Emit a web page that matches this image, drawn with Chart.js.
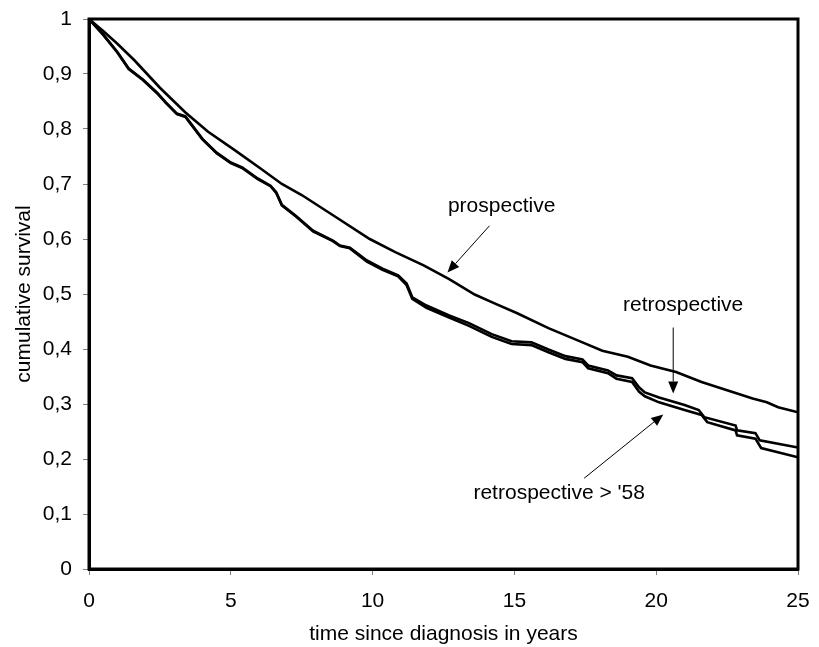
<!DOCTYPE html>
<html>
<head>
<meta charset="utf-8">
<script src="https://cdn.jsdelivr.net/npm/chart.js@4"></script>
<style>
  html, body { margin: 0; padding: 0; background: #fff; }
  #wrap { width: 819px; height: 647px; }
</style>
</head>
<body>
<div id="wrap"><canvas id="survChart" width="819" height="647"></canvas></div>
<script>
// years since diagnosis / cumulative survival
const prospYears = [0, 0.5, 1, 1.6, 2.5, 3.4, 4.2, 5.1, 6, 6.8, 7.5, 8.7, 9.9, 10.8, 11.8, 12.7, 13.6, 14.3, 15.1, 16.2, 17.4, 18.1, 19.0, 19.8, 20.7, 21.6, 22.5, 23.4, 23.9, 24.3, 25];
const prospSurv  = [1, 0.978, 0.955, 0.925, 0.875, 0.83, 0.795, 0.763, 0.73, 0.70, 0.68, 0.64, 0.60, 0.576, 0.552, 0.527, 0.499, 0.483, 0.465, 0.438, 0.412, 0.397, 0.386, 0.370, 0.358, 0.340, 0.325, 0.310, 0.303, 0.294, 0.285];

const retroYears = [0, 0.5, 1.0, 1.4, 1.9, 2.4, 2.7, 3.1, 3.4, 4.0, 4.5, 5.0, 5.4, 5.95, 6.4, 6.6, 6.8, 7.3, 7.9, 8.6, 8.85, 9.2, 9.8, 10.35, 10.9, 11.2, 11.4, 11.9, 12.7, 13.4, 14.2, 14.9, 15.6, 16.2, 16.8, 17.4, 17.6, 18.3, 18.6, 19.15, 19.4, 19.6, 20.1, 21.0, 21.5, 21.7, 22.8, 22.85, 23.5, 23.65, 25];
const retroSurv  = [1, 0.972, 0.94, 0.91, 0.89, 0.866, 0.849, 0.828, 0.823, 0.782, 0.757, 0.739, 0.730, 0.71, 0.697, 0.685, 0.662, 0.642, 0.615, 0.597, 0.588, 0.584, 0.561, 0.546, 0.534, 0.519, 0.494, 0.479, 0.461, 0.447, 0.427, 0.414, 0.412, 0.399, 0.387, 0.381, 0.370, 0.361, 0.352, 0.347, 0.330, 0.321, 0.312, 0.298, 0.289, 0.276, 0.261, 0.252, 0.247, 0.234, 0.221];

const retro58Years = [0, 0.5, 1.0, 1.4, 1.9, 2.4, 2.7, 3.1, 3.4, 4.0, 4.5, 5.0, 5.4, 5.95, 6.4, 6.6, 6.8, 7.3, 7.9, 8.6, 8.85, 9.2, 9.8, 10.35, 10.9, 11.2, 11.4, 11.9, 12.7, 13.4, 14.2, 14.9, 15.6, 16.2, 16.8, 17.4, 17.6, 18.3, 18.6, 19.15, 19.4, 19.6, 20.1, 21.0, 21.6, 21.8, 22.8, 22.85, 23.5, 23.7, 25];
const retro58Surv  = [1, 0.971, 0.939, 0.909, 0.889, 0.865, 0.848, 0.827, 0.822, 0.781, 0.756, 0.738, 0.729, 0.709, 0.696, 0.684, 0.661, 0.641, 0.614, 0.596, 0.587, 0.583, 0.559, 0.544, 0.532, 0.516, 0.491, 0.475, 0.457, 0.442, 0.422, 0.409, 0.407, 0.394, 0.382, 0.376, 0.365, 0.356, 0.346, 0.340, 0.322, 0.314, 0.303, 0.289, 0.280, 0.267, 0.252, 0.243, 0.237, 0.220, 0.203];

const xTicks = [0, 5, 10, 15, 20, 25];
const yTicks = [0, 0.1, 0.2, 0.3, 0.4, 0.5, 0.6, 0.7, 0.8, 0.9, 1];

// labels with arrows, in data units
const notes = [
    { text: 'prospective', tx: 14.55, ty: 0.659, from: [14.12, 0.624], to: [12.64, 0.539] },
    { text: 'retrospective', tx: 20.95, ty: 0.479, from: [20.6, 0.439], to: [20.6, 0.319] },
    { text: "retrospective > '58", tx: 16.58, ty: 0.138, from: [17.46, 0.165], to: [20.25, 0.281] }
];

const FONT = 'Arial, "Liberation Sans", sans-serif';
const FSIZE = 21;

function toPoints(xs, ys) {
    return xs.map((x, i) => ({ x: x, y: ys[i] }));
}

function curve(label, xs, ys) {
    return {
        label: label,
        data: toPoints(xs, ys),
        showLine: true,
        borderColor: '#000',
        borderWidth: 2.6,
        pointRadius: 0,
        tension: 0,
        fill: false
    };
}

const frameAndNotes = {
    id: 'frameAndNotes',
    afterDatasetsDraw(chart) {
        const { ctx, chartArea: a, scales } = chart;
        ctx.save();
        // box around the plot
        ctx.strokeStyle = '#000';
        ctx.lineWidth = 3;
        ctx.strokeRect(a.left, a.top, a.right - a.left, a.bottom - a.top);

        ctx.font = FSIZE + 'px ' + FONT;
        ctx.fillStyle = '#000';
        ctx.textAlign = 'center';
        ctx.textBaseline = 'middle';
        notes.forEach(n => {
            ctx.fillText(n.text, scales.x.getPixelForValue(n.tx), scales.y.getPixelForValue(n.ty));
            const x1 = scales.x.getPixelForValue(n.from[0]);
            const y1 = scales.y.getPixelForValue(n.from[1]);
            const x2 = scales.x.getPixelForValue(n.to[0]);
            const y2 = scales.y.getPixelForValue(n.to[1]);
            const ang = Math.atan2(y2 - y1, x2 - x1);
            const headLen = 12, headHalf = 5;
            const bx = x2 - headLen * Math.cos(ang);
            const by = y2 - headLen * Math.sin(ang);
            ctx.lineWidth = 1;
            ctx.beginPath();
            ctx.moveTo(x1, y1);
            ctx.lineTo(bx, by);
            ctx.stroke();
            ctx.beginPath();
            ctx.moveTo(x2, y2);
            ctx.lineTo(bx + headHalf * Math.sin(ang), by - headHalf * Math.cos(ang));
            ctx.lineTo(bx - headHalf * Math.sin(ang), by + headHalf * Math.cos(ang));
            ctx.closePath();
            ctx.fill();
        });
        ctx.restore();
    }
};

new Chart(document.getElementById('survChart'), {
    type: 'scatter',
    data: {
        datasets: [
            curve('prospective', prospYears, prospSurv),
            curve('retrospective', retroYears, retroSurv),
            curve("retrospective > '58", retro58Years, retro58Surv)
        ]
    },
    options: {
        responsive: false,
        animation: false,
        layout: { padding: { top: 19, right: 21, left: 0, bottom: 0 } },
        plugins: {
            legend: { display: false },
            tooltip: { enabled: false }
        },
        scales: {
            x: {
                type: 'linear',
                min: 0,
                max: 25,
                afterBuildTicks: s => { s.ticks = xTicks.map(v => ({ value: v })); },
                afterFit: s => { s.height = 78; s.paddingLeft = 0; s.paddingRight = 0; },
                ticks: { color: '#000', font: { family: FONT, size: FSIZE }, padding: 14 },
                grid: { drawOnChartArea: false, drawTicks: true, tickLength: 6, color: '#808080', lineWidth: 1 },
                border: { display: true, color: '#000', width: 3 },
                title: { display: true, text: 'time since diagnosis in years', color: '#000', font: { family: FONT, size: FSIZE }, padding: { top: 0, bottom: 0 } }
            },
            y: {
                type: 'linear',
                min: 0,
                max: 1,
                afterBuildTicks: s => { s.ticks = yTicks.map(v => ({ value: v })); },
                afterFit: s => { s.width = 89; s.paddingTop = 0; s.paddingBottom = 0; },
                ticks: {
                    color: '#000',
                    font: { family: FONT, size: FSIZE },
                    padding: 11,
                    callback: v => String(Math.round(v * 10) / 10).replace('.', ',')
                },
                grid: { drawOnChartArea: false, drawTicks: true, tickLength: 6, color: '#808080', lineWidth: 1 },
                border: { display: true, color: '#000', width: 3 },
                title: { display: true, text: 'cumulative survival', color: '#000', font: { family: FONT, size: FSIZE }, padding: { top: 12, bottom: 0 } }
            }
        }
    },
    plugins: [frameAndNotes]
});
</script>
</body>
</html>
